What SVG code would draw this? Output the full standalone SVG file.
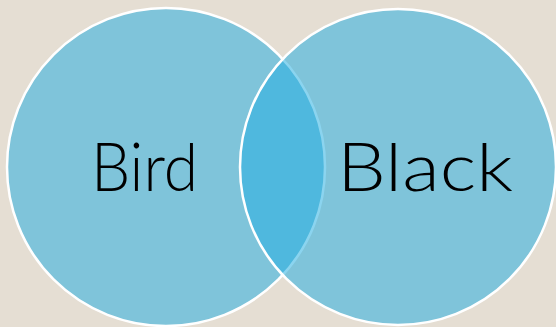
<svg xmlns="http://www.w3.org/2000/svg" width="556" height="327" viewBox="0 0 556 327">
<style>
.set{fill:#23ADE0;fill-opacity:0.53;stroke:#ffffff;stroke-width:2.5}
.lbl{font-family:"Lato","Liberation Sans",Arial,sans-serif;font-weight:300;font-size:67px;fill:#000000}
</style>
<rect x="0" y="0" width="556" height="327" fill="#E5DED3"/>
<g id="bird">
<circle class="set" cx="166" cy="167" r="159"/>
<text class="lbl" x="91" y="191" textLength="107" lengthAdjust="spacingAndGlyphs">Bird</text>
</g>
<g id="black">
<circle class="set" cx="398" cy="167" r="158"/>
<text class="lbl" x="337" y="191" textLength="176" lengthAdjust="spacingAndGlyphs">Black</text>
</g>
<g id="connectors"/>
</svg>
